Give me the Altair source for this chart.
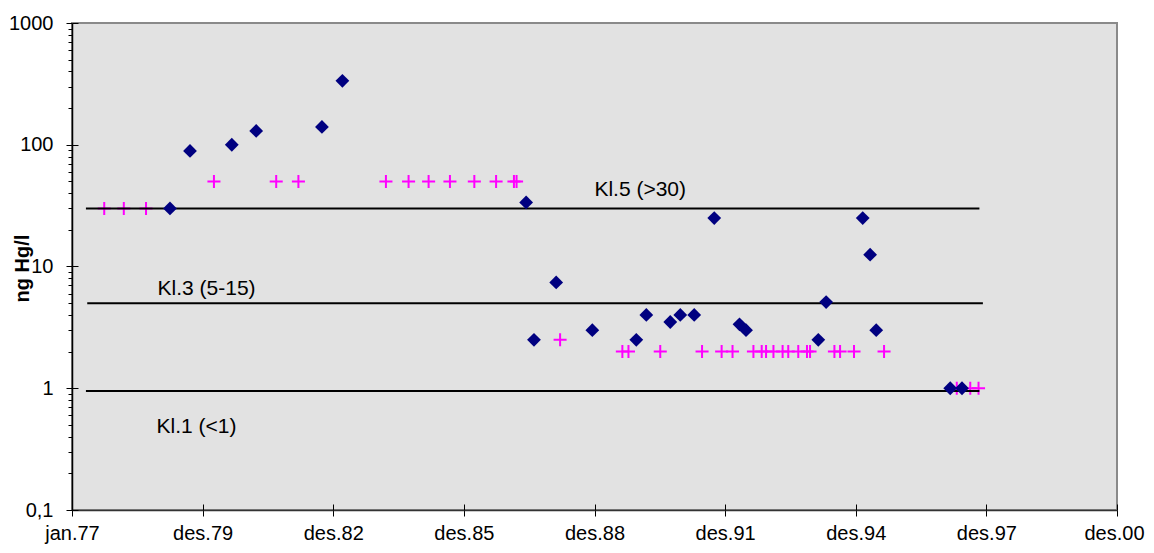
import json
import altair as alt
import pandas as pd

# ---- data ----
diamond_year = [1979.25, 1979.71, 1980.67, 1981.23, 1982.74, 1983.21, 1987.43, 1987.61,
                1988.12, 1988.95, 1989.96, 1990.19, 1990.74, 1990.97, 1991.29, 1991.75,
                1992.33, 1992.48, 1994.14, 1994.32, 1995.16, 1995.33, 1995.47, 1997.17,
                1997.44]
diamond_value = [30, 89, 100, 130, 140, 335, 33.6, 2.5,
                 7.4, 3, 2.5, 4, 3.5, 4, 4, 25,
                 3.35, 3, 2.5, 5.1, 25, 12.5, 3, 1,
                 1]

plus_year = [1977.74, 1978.19, 1978.70, 1980.26, 1981.69, 1982.20, 1984.21, 1984.73,
             1985.19, 1985.68, 1986.24, 1986.74, 1987.15, 1987.21, 1988.21, 1989.64,
             1989.78, 1990.51, 1991.47, 1991.92, 1992.17, 1992.65, 1992.84, 1992.94,
             1993.11, 1993.32, 1993.45, 1993.68, 1993.88, 1993.95, 1994.51, 1994.64,
             1994.96, 1995.65, 1997.32, 1997.63, 1997.82]
plus_value = [30, 30, 30, 50, 50, 50, 50, 50,
              50, 50, 50, 50, 50, 50, 2.5, 2,
              2, 2, 2, 2, 2, 2, 2, 2,
              2, 2, 2, 2, 2, 2, 2, 2,
              2, 2, 1, 1, 1]

class_labels = ["Kl.5 (>30)", "Kl.3 (5-15)", "Kl.1 (<1)"]
class_level = [30, 5, 0.95]
class_line_start = [1977.32, 1977.35, 1977.32]
class_line_end = [1997.84, 1997.92, 1997.84]
class_label_year = [1990.05, 1980.09, 1979.86]
class_label_value = [42.4, 6.52, 0.483]

x_tick_values = [1977, 1980, 1983, 1986, 1989, 1992, 1995, 1998, 2001]
x_tick_labels = ["jan.77", "des.79", "des.82", "des.85", "des.88", "des.91", "des.94", "des.97", "des.00"]

y_major = [0.1, 1, 10, 100, 1000]
y_major_labels = ["0,1", "1", "10", "100", "1000"]
y_minor = [0.2, 0.3, 0.4, 0.5, 0.6, 0.7, 0.8, 0.9,
           2, 3, 4, 5, 6, 7, 8, 9,
           20, 30, 40, 50, 60, 70, 80, 90,
           200, 300, 400, 500, 600, 700, 800, 900]

# ---- tables ----
diamonds = pd.DataFrame({"year": diamond_year, "value": diamond_value})
pluses = pd.DataFrame({"year": plus_year, "value": plus_value})
classes = pd.DataFrame({
    "label": class_labels, "level": class_level,
    "start": class_line_start, "end": class_line_end,
    "ly": class_label_year, "lv": class_label_value,
})

FONT = "Liberation Sans"
xscale = alt.Scale(domain=[1977, 2001], nice=False, zero=False)
yscale = alt.Scale(type="log", domain=[0.1, 1000], nice=False)

xv = json.dumps(x_tick_values)
xl = json.dumps(x_tick_labels)
yv = json.dumps(y_major)
yl = json.dumps(y_major_labels)

x_axis = alt.Axis(
    orient="bottom", values=x_tick_values, title=None, grid=False,
    labelExpr=f"{xl}[indexof({xv}, datum.value)]",
    labelFont=FONT, labelFontSize=20, labelColor="black", labelPadding=23,
    labelBaseline="alphabetic", labelFlush=False, labelOverlap=False,
    labelOffset={"condition": {"test": f"datum.value == {x_tick_values[-1]}", "value": -3}, "value": 0},
    tickSize=6, tickColor="black", tickWidth=1,
    domainColor="#333333", domainWidth=1.5,
)
y_axis = alt.Axis(
    orient="left", values=sorted(y_major + y_minor), grid=False,
    title="ng Hg/l", titleFont=FONT, titleFontSize=20, titleFontWeight="bold",
    titleColor="black", titleAngle=270, titleX=-50, titleY=245,
    titleAlign="center", titleBaseline="middle",
    labelExpr=f"indexof({yv}, datum.value) >= 0 ? {yl}[indexof({yv}, datum.value)] : ''",
    labelFont=FONT, labelFontSize=20, labelColor="black", labelPadding=13,
    labelFlush=False, labelOverlap=False,
    tickSize={"condition": {"test": f"indexof({yv}, datum.value) >= 0", "value": 6}, "value": 4},
    tickColor="black", tickWidth=1,
    domainColor="black", domainWidth=1.5,
)

plus_layer = alt.Chart(pluses).mark_point(
    shape="M-1,0L1,0M0,-1L0,1", filled=False, stroke="#ff00ff",
    strokeWidth=2, size=170, opacity=1,
).encode(
    x=alt.X("year:Q", scale=xscale, axis=x_axis),
    y=alt.Y("value:Q", scale=yscale, axis=y_axis),
)

rule_layer = alt.Chart(classes).mark_rule(color="black", strokeWidth=2).encode(
    x=alt.X("start:Q", scale=xscale, axis=None),
    x2="end:Q",
    y=alt.Y("level:Q", scale=yscale, axis=None),
)

diamond_layer = alt.Chart(diamonds).mark_point(
    shape="diamond", filled=True, color="#000080", size=190, opacity=1,
).encode(
    x=alt.X("year:Q", scale=xscale, axis=None),
    y=alt.Y("value:Q", scale=yscale, axis=None),
)

text_layer = alt.Chart(classes).mark_text(
    font=FONT, fontSize=21, color="black", align="center", baseline="middle",
).encode(
    x=alt.X("ly:Q", scale=xscale, axis=None),
    y=alt.Y("lv:Q", scale=yscale, axis=None),
    text="label:N",
)

# inner halves of the major ticks (ticks cross the axis line)
inner_ticks = alt.Chart(diamonds).mark_point(opacity=0).encode(
    x=alt.X("year:Q", scale=xscale, axis=alt.Axis(
        orient="bottom", values=x_tick_values, offset=-6, domain=False,
        labels=False, title=None, grid=False, tickSize=6, tickColor="black", tickWidth=1)),
    y=alt.Y("value:Q", scale=yscale, axis=alt.Axis(
        orient="left", values=y_major, offset=-6, domain=False,
        labels=False, title=None, grid=False, tickSize=6, tickColor="black", tickWidth=1)),
)

chart = alt.layer(
    plus_layer, rule_layer, diamond_layer, text_layer, inner_ticks
).resolve_axis(
    x="independent", y="independent"
).properties(
    width=1045, height=487,
    background="white",
    autosize=alt.AutoSizeParams(type="none"),
    padding={"left": 64, "top": 15, "right": 29, "bottom": 35},
).configure_view(
    fill="#e2e2e2", stroke="#8a8a8a", strokeWidth=2,
)

chart.save("out.html", embed_options={"renderer": "svg", "actions": False})
